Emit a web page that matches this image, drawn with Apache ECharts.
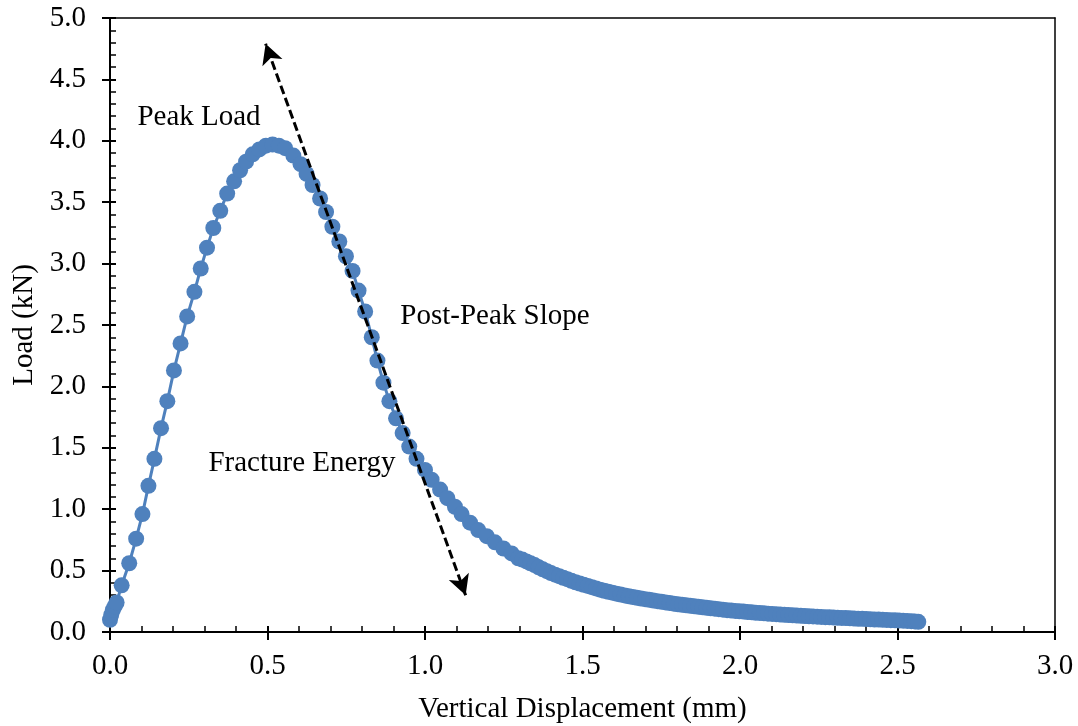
<!DOCTYPE html>
<html>
<head>
<meta charset="utf-8">
<style>
html,body{margin:0;padding:0;background:#fff;}
#chart{width:1078px;height:726px;}
</style>
<script src="https://cdn.jsdelivr.net/npm/echarts@6/dist/echarts.min.js"></script>
</head>
<body>
<div id="chart"></div>
<script>
// Vertical displacement (mm)
const displacement = [
  0.000, 0.004, 0.009, 0.015, 0.021, 0.037, 0.061, 0.083, 0.103, 0.122,
  0.141, 0.162, 0.182, 0.203, 0.224, 0.245, 0.268, 0.288, 0.308, 0.328,
  0.350, 0.372, 0.394, 0.413, 0.432, 0.453, 0.474, 0.495, 0.516, 0.536,
  0.556, 0.582, 0.605, 0.624, 0.643, 0.667, 0.686, 0.706, 0.728, 0.749,
  0.770, 0.789, 0.810, 0.831, 0.849, 0.868, 0.887, 0.908, 0.929, 0.950,
  0.973, 1.000, 1.021, 1.048, 1.071, 1.095, 1.116, 1.143, 1.169, 1.196,
  1.222, 1.249, 1.275, 1.296,
  1.309, 1.322, 1.335, 1.348, 1.361, 1.374, 1.387, 1.400, 1.413, 1.426,
  1.439, 1.452, 1.465, 1.478, 1.491, 1.504, 1.517, 1.530, 1.543, 1.556,
  1.569, 1.582, 1.595, 1.608, 1.621, 1.634, 1.647, 1.660, 1.673, 1.686,
  1.699, 1.712, 1.725, 1.738, 1.751, 1.764, 1.777, 1.790, 1.803, 1.816,
  1.829, 1.842, 1.855, 1.868, 1.881, 1.894, 1.907, 1.920, 1.933, 1.946,
  1.959, 1.972, 1.985, 1.998, 2.011, 2.024, 2.037, 2.050, 2.063, 2.076,
  2.089, 2.102, 2.115, 2.128, 2.141, 2.154, 2.167, 2.180, 2.193, 2.206,
  2.219, 2.232, 2.245, 2.258, 2.271, 2.284, 2.297, 2.310, 2.323, 2.336,
  2.349, 2.362, 2.375, 2.388, 2.401, 2.414, 2.427, 2.440, 2.453, 2.466,
  2.479, 2.492, 2.505, 2.518, 2.531, 2.544, 2.555, 2.566
];
// Load (kN)
const load = [
  0.10, 0.14, 0.18, 0.21, 0.24, 0.38, 0.56, 0.76, 0.96, 1.19,
  1.41, 1.66, 1.88, 2.13, 2.35, 2.57, 2.77, 2.96, 3.13, 3.29,
  3.43, 3.57, 3.67, 3.76, 3.83, 3.89, 3.93, 3.96, 3.97, 3.96,
  3.94, 3.88, 3.81, 3.73, 3.64, 3.53, 3.42, 3.30, 3.18, 3.06,
  2.94, 2.78, 2.61, 2.40, 2.21, 2.03, 1.88, 1.74, 1.62, 1.51,
  1.41, 1.32, 1.24, 1.16, 1.09, 1.02, 0.96, 0.89, 0.83, 0.78,
  0.73, 0.68, 0.64, 0.60,
  0.590, 0.575, 0.560, 0.545, 0.527, 0.510, 0.495, 0.480, 0.467, 0.455,
  0.442, 0.430, 0.417, 0.405, 0.395, 0.385, 0.375, 0.365, 0.355, 0.345,
  0.336, 0.328, 0.320, 0.312, 0.305, 0.298, 0.291, 0.285, 0.278, 0.272,
  0.267, 0.262, 0.256, 0.251, 0.246, 0.241, 0.236, 0.231, 0.226, 0.222,
  0.217, 0.213, 0.209, 0.205, 0.201, 0.197, 0.193, 0.190, 0.186, 0.182,
  0.178, 0.175, 0.172, 0.169, 0.166, 0.163, 0.160, 0.157, 0.155, 0.152,
  0.149, 0.147, 0.145, 0.142, 0.140, 0.138, 0.136, 0.134, 0.132, 0.130,
  0.128, 0.127, 0.125, 0.123, 0.121, 0.120, 0.118, 0.116, 0.115, 0.113,
  0.111, 0.110, 0.108, 0.107, 0.105, 0.104, 0.102, 0.101, 0.099, 0.098,
  0.096, 0.095, 0.093, 0.092, 0.090, 0.088, 0.086, 0.083
];
// Post-peak slope arrow endpoints [displacement, load]
const arrowStart = [1.129, 0.30];
const arrowEnd = [0.494, 4.79];

const xTicks = {min: 0, max: 3, interval: 0.5};
const yTicks = {min: 0, max: 5, interval: 0.5};

const FONT = '"Liberation Serif", "Times New Roman", serif';
const FS = 29;
const points = displacement.map((d, i) => [d, load[i]]);

const chart = echarts.init(document.getElementById('chart'), null, {renderer: 'canvas'});

const tickLabel = {
  color: '#000', fontFamily: FONT, fontSize: FS,
  formatter: v => v.toFixed(1)
};

chart.setOption({
  animation: false,
  backgroundColor: '#fff',
  grid: {left: 110, right: 23, top: 18, bottom: 94, containLabel: false, outerBoundsMode: 'none'},
  xAxis: [
    {
      type: 'value', position: 'bottom',
      min: xTicks.min, max: xTicks.max, interval: xTicks.interval,
      axisLine: {show: true, onZero: false, lineStyle: {color: '#000', width: 2}},
      axisTick: {show: true, inside: true, length: 6, lineStyle: {color: '#000', width: 2}},
      minorTick: {show: true, splitNumber: 5, length: 6, lineStyle: {color: '#000', width: 1.5}},
      axisLabel: Object.assign({margin: 20}, tickLabel),
      splitLine: {show: false},
      name: 'Vertical Displacement (mm)', nameLocation: 'middle', nameGap: 63,
      nameTextStyle: {color: '#000', fontFamily: FONT, fontSize: FS}
    },
    {
      type: 'value', position: 'bottom',
      min: xTicks.min, max: xTicks.max, interval: xTicks.interval,
      axisLine: {show: false, onZero: false},
      axisTick: {show: true, inside: false, length: 8, lineStyle: {color: '#000', width: 2}},
      axisLabel: {show: false}, splitLine: {show: false}
    },
    {
      type: 'value', position: 'top',
      min: xTicks.min, max: xTicks.max, interval: xTicks.interval,
      axisLine: {show: true, onZero: false, lineStyle: {color: '#000', width: 1.5}},
      axisTick: {show: false}, axisLabel: {show: false}, splitLine: {show: false}
    }
  ],
  yAxis: [
    {
      type: 'value', position: 'left',
      min: yTicks.min, max: yTicks.max, interval: yTicks.interval,
      axisLine: {show: true, onZero: false, lineStyle: {color: '#000', width: 2}},
      axisTick: {show: true, inside: true, length: 6, lineStyle: {color: '#000', width: 2}},
      minorTick: {show: true, splitNumber: 5, length: 6, lineStyle: {color: '#000', width: 1.5}},
      axisLabel: Object.assign({margin: 24}, tickLabel),
      splitLine: {show: false},
      name: 'Load (kN)', nameLocation: 'middle', nameGap: 66,
      nameTextStyle: {color: '#000', fontFamily: FONT, fontSize: FS}
    },
    {
      type: 'value', position: 'left',
      min: yTicks.min, max: yTicks.max, interval: yTicks.interval,
      axisLine: {show: false, onZero: false},
      axisTick: {show: true, inside: false, length: 8, lineStyle: {color: '#000', width: 2}},
      axisLabel: {show: false}, splitLine: {show: false}
    },
    {
      type: 'value', position: 'right',
      min: yTicks.min, max: yTicks.max, interval: yTicks.interval,
      axisLine: {show: true, onZero: false, lineStyle: {color: '#000', width: 1.5}},
      axisTick: {show: false}, axisLabel: {show: false}, splitLine: {show: false}
    }
  ],
  series: [
    {
      type: 'line', xAxisIndex: 0, yAxisIndex: 0,
      data: points,
      smooth: false,
      symbol: 'circle', symbolSize: 16,
      showAllSymbol: true,
      lineStyle: {color: '#4F81BD', width: 3},
      itemStyle: {color: '#4F81BD'},
      z: 2
    },
    {
      type: 'line', xAxisIndex: 0, yAxisIndex: 0,
      data: [], z: 10,
      markLine: {
        silent: true, z: 10,
        symbol: ['arrow', 'arrow'], symbolSize: [16, 20],
        label: {show: false},
        lineStyle: {color: '#000', width: 3, type: [9, 4]},
        data: [[{coord: arrowStart}, {coord: arrowEnd}]]
      }
    }
  ],
  graphic: [
    {type: 'text', x: 199, y: 117, z: 20,
     style: {text: 'Peak Load', font: FS + 'px ' + FONT, fill: '#000', align: 'center', verticalAlign: 'middle'}},
    {type: 'text', x: 495, y: 316, z: 20,
     style: {text: 'Post-Peak Slope', font: FS + 'px ' + FONT, fill: '#000', align: 'center', verticalAlign: 'middle'}},
    {type: 'text', x: 302, y: 463, z: 20,
     style: {text: 'Fracture Energy', font: FS + 'px ' + FONT, fill: '#000', align: 'center', verticalAlign: 'middle'}}
  ]
});
</script>
</body>
</html>
